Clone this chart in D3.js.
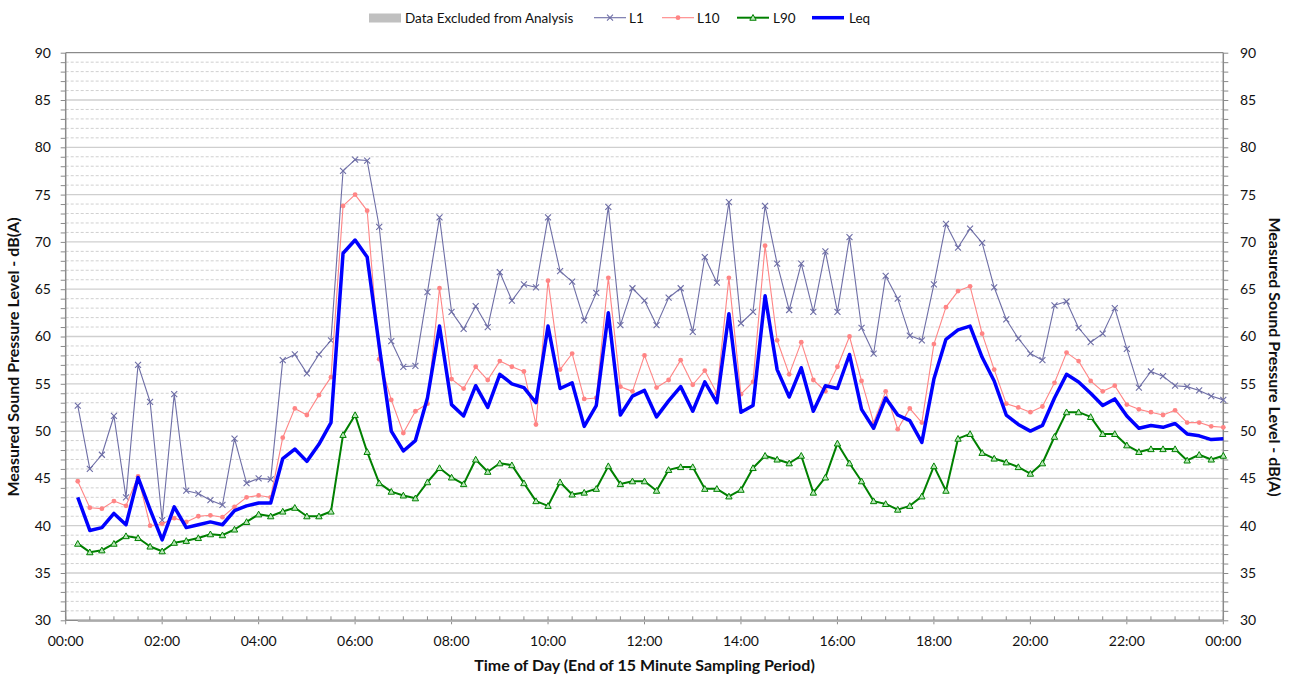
<!DOCTYPE html>
<html>
<head>
<meta charset="utf-8">
<script src="https://cdn.jsdelivr.net/npm/d3@7.9.0/dist/d3.min.js"></script>
<style>
  html, body { margin: 0; padding: 0; background: #fff; }
  svg { display: block; font-family: Lato, 'Open Sans', sans-serif; }
</style>
</head>
<body>
<svg id="chart" width="1293" height="678"></svg>
<script>
// End of each 15 minute sampling period, in minutes after midnight (00:15 ... 24:00)
const sampleMinutes = d3.range(1, 97).map((k) => k * 15);

const xTickLabels = ['00:00', '02:00', '04:00', '06:00', '08:00', '10:00', '12:00',
  '14:00', '16:00', '18:00', '20:00', '22:00', '00:00'];
const yTicks = [30, 35, 40, 45, 50, 55, 60, 65, 70, 75, 80, 85, 90];

const l1 = [
  52.7, 46.0, 47.5, 51.6, 43.0, 57.0, 53.1, 40.6, 53.9, 43.7, 43.4, 42.7, 42.2, 49.2, 44.5,
  45.0, 44.9, 57.5, 58.1, 56.1, 58.1, 59.6, 77.5, 78.7, 78.6, 71.6, 59.5, 56.8, 56.9, 64.7, 72.6,
  62.6, 60.8, 63.2, 61.0, 66.8, 63.8, 65.5, 65.2, 72.6, 66.9, 65.8, 61.7, 64.6, 73.7, 61.2, 65.1,
  63.8, 61.2, 64.1, 65.1, 60.5, 68.4, 65.7, 74.2, 61.4, 62.6, 73.8, 67.7, 62.8, 67.7, 62.6, 69.0, 62.6,
  70.5, 60.9, 58.2, 66.4, 64.0, 60.1, 59.6, 65.5, 71.9, 69.4, 71.4, 69.9, 65.2, 61.8, 59.8, 58.2,
  57.5, 63.3, 63.7, 60.9, 59.4, 60.3, 63.0, 58.7, 54.6, 56.3, 55.8, 54.8, 54.7, 54.3, 53.7, 53.3,
];
const l10 = [
  44.7, 41.9, 41.8, 42.6, 42.1, 45.2, 40.0, 40.2, 40.8, 40.4, 41.0, 41.1, 40.9, 42.0, 43.0,
  43.2, 43.0, 49.3, 52.4, 51.7, 53.8, 55.7, 73.8, 75.0, 73.3, 57.6, 53.3, 49.8, 52.1, 52.9, 65.1,
  55.5, 54.5, 56.8, 55.4, 57.4, 56.8, 56.3, 50.7, 65.9, 56.5, 58.2, 53.4, 53.5, 66.2, 54.7, 54.2,
  58.0, 54.6, 55.4, 57.5, 54.9, 56.4, 54.0, 66.2, 53.9, 55.2, 69.6, 59.6, 56.0, 59.4, 55.4, 54.2, 56.8,
  60.0, 55.3, 50.9, 54.2, 50.2, 52.4, 50.9, 59.2, 63.1, 64.8, 65.3, 60.3, 56.5, 52.9, 52.5, 52.0,
  52.6, 55.1, 58.3, 57.4, 55.3, 54.2, 54.8, 52.8, 52.3, 52.0, 51.7, 52.2, 50.9, 50.9, 50.5, 50.4,
];
const l90 = [
  38.1, 37.2, 37.4, 38.1, 38.9, 38.7, 37.8, 37.3, 38.2, 38.4, 38.7, 39.1, 39.0, 39.6, 40.4,
  41.2, 41.0, 41.5, 41.9, 41.0, 41.0, 41.5, 49.6, 51.7, 47.8, 44.5, 43.6, 43.2, 42.9, 44.6, 46.1,
  45.1, 44.4, 47.0, 45.7, 46.6, 46.4, 44.5, 42.6, 42.1, 44.6, 43.3, 43.5, 43.9, 46.3, 44.4, 44.7,
  44.7, 43.7, 45.9, 46.2, 46.2, 43.9, 43.9, 43.1, 43.8, 46.1, 47.4, 47.0, 46.6, 47.4, 43.5, 45.1, 48.7,
  46.6, 44.7, 42.6, 42.3, 41.7, 42.1, 43.1, 46.3, 43.7, 49.2, 49.7, 47.7, 47.1, 46.7, 46.2, 45.5,
  46.6, 49.4, 52.0, 52.0, 51.5, 49.7, 49.7, 48.5, 47.8, 48.1, 48.1, 48.1, 46.9, 47.5, 47.0, 47.4,
];
const leq = [
  43.0, 39.5, 39.8, 41.3, 40.1, 45.1, 41.7, 38.5, 42.0, 39.8, 40.1, 40.4, 40.1, 41.6, 42.1,
  42.4, 42.4, 47.1, 48.1, 46.8, 48.6, 50.9, 68.8, 70.2, 68.4, 59.0, 50.0, 47.9, 49.0, 53.5, 61.1,
  52.8, 51.6, 54.8, 52.5, 56.0, 55.0, 54.6, 53.0, 61.1, 54.5, 55.1, 50.5, 52.7, 62.5, 51.7, 53.7,
  54.3, 51.5, 53.2, 54.7, 52.1, 55.2, 53.0, 62.4, 52.0, 52.7, 64.3, 56.5, 53.6, 56.7, 52.1, 54.8, 54.5,
  58.1, 52.3, 50.3, 53.5, 51.7, 51.1, 48.8, 55.5, 59.7, 60.7, 61.1, 57.8, 55.3, 51.7, 50.7, 50.0,
  50.6, 53.5, 56.0, 55.2, 54.0, 52.7, 53.4, 51.6, 50.3, 50.6, 50.4, 50.8, 49.7, 49.5, 49.1, 49.2,
];

const series = [
  { name: 'L1', values: l1, color: '#6e6ea6', width: 1.1, marker: 'cross' },
  { name: 'L10', values: l10, color: '#ff8585', width: 1.1, marker: 'dot' },
  { name: 'L90', values: l90, color: '#008000', width: 2, marker: 'triangle' },
  { name: 'Leq', values: leq, color: '#0000ff', width: 3.5, marker: null },
];

const svg = d3.select('#chart');
const plot = { left: 65.7, right: 1223.3, top: 52.7, bottom: 620.3 };

const x = d3.scaleLinear().domain([0, 1440]).range([plot.left, plot.right]);
const y = d3.scaleLinear().domain([30, 90]).range([plot.bottom, plot.top]);

// gridlines
const minor = d3.range(31, 90).filter((v) => v % 5 !== 0);
svg.append('g')
  .selectAll('line')
  .data(minor)
  .join('line')
  .attr('x1', plot.left).attr('x2', plot.right)
  .attr('y1', (d) => y(d)).attr('y2', (d) => y(d))
  .attr('stroke', '#c4c4c4')
  .attr('stroke-width', 0.8)
  .attr('stroke-dasharray', '3,2');

svg.append('g')
  .selectAll('line')
  .data(yTicks.filter((v) => v > 30 && v < 90))
  .join('line')
  .attr('x1', plot.left).attr('x2', plot.right)
  .attr('y1', (d) => y(d)).attr('y2', (d) => y(d))
  .attr('stroke', '#cfcfcf')
  .attr('stroke-width', 1.3);

svg.append('line')
  .attr('x1', plot.left).attr('x2', plot.right)
  .attr('y1', y(90)).attr('y2', y(90))
  .attr('stroke', '#6f6f6f')
  .attr('stroke-width', 1);

// axes
const leftAxis = d3.axisLeft(y).tickValues(d3.range(30, 91)).tickSize(5).tickFormat('');
const rightAxis = d3.axisRight(y).tickValues(d3.range(30, 91)).tickSize(5).tickFormat('');

function styleAxis(g) {
  g.select('.domain').remove();
  g.selectAll('.tick line').attr('stroke', '#8a8a8a');
}

svg.append('g').attr('transform', `translate(${plot.left},0)`).call(leftAxis).call(styleAxis);
svg.append('g').attr('transform', `translate(${plot.right},0)`).call(rightAxis).call(styleAxis);

// y tick labels
svg.append('g')
  .selectAll('text')
  .data(yTicks)
  .join('text')
  .attr('x', 51)
  .attr('y', (d) => y(d))
  .attr('dy', '0.35em')
  .attr('text-anchor', 'end')
  .attr('font-size', 14)
  .attr('fill', '#111')
  .text((d) => d);

svg.append('g')
  .selectAll('text')
  .data(yTicks)
  .join('text')
  .attr('x', 1240)
  .attr('y', (d) => y(d))
  .attr('dy', '0.35em')
  .attr('text-anchor', 'start')
  .attr('font-size', 14)
  .attr('fill', '#111')
  .text((d) => d);

// x axis: minor ticks every 30 minutes, major every 2 hours
const xMinor = d3.range(0, 1441, 30).filter((m) => m % 120 !== 0);
const xMajor = d3.range(0, 1441, 120);

svg.append('g')
  .selectAll('line')
  .data(xMinor)
  .join('line')
  .attr('x1', (d) => x(d)).attr('x2', (d) => x(d))
  .attr('y1', plot.bottom - 4).attr('y2', plot.bottom)
  .attr('stroke', '#8a8a8a');

svg.append('g')
  .selectAll('line')
  .data(xMajor)
  .join('line')
  .attr('x1', (d) => x(d)).attr('x2', (d) => x(d))
  .attr('y1', plot.bottom - 4).attr('y2', plot.bottom + 4)
  .attr('stroke', '#8a8a8a');

svg.append('line')
  .attr('x1', plot.left).attr('x2', plot.left)
  .attr('y1', plot.top).attr('y2', plot.bottom)
  .attr('stroke', '#8a8a8a').attr('stroke-width', 1.5);
svg.append('line')
  .attr('x1', plot.right).attr('x2', plot.right)
  .attr('y1', plot.top).attr('y2', plot.bottom)
  .attr('stroke', '#8a8a8a').attr('stroke-width', 1.5);
svg.append('line')
  .attr('x1', plot.left).attr('x2', plot.right)
  .attr('y1', plot.bottom).attr('y2', plot.bottom)
  .attr('stroke', '#8a8a8a').attr('stroke-width', 1.5);
// excluded-data band sits on the baseline
svg.append('line')
  .attr('x1', x(sampleMinutes[0])).attr('x2', plot.right)
  .attr('y1', plot.bottom + 0.8).attr('y2', plot.bottom + 0.8)
  .attr('stroke', '#b5b5b5').attr('stroke-width', 1.6);

svg.append('g')
  .selectAll('text')
  .data(xTickLabels)
  .join('text')
  .attr('x', (d, i) => x(xMajor[i]))
  .attr('y', 646)
  .attr('text-anchor', 'middle')
  .attr('font-size', 14)
  .attr('fill', '#111')
  .text((d) => d);

// series
const line = d3.line()
  .x((d, i) => x(sampleMinutes[i]))
  .y((d) => y(d));

function drawMarker(g, type, color, cx, cy) {
  if (type === 'cross') {
    const s = 3;
    g.append('path')
      .attr('d', `M${cx - s},${cy - s}L${cx + s},${cy + s}M${cx - s},${cy + s}L${cx + s},${cy - s}`)
      .attr('stroke', color).attr('stroke-width', 1.1).attr('fill', 'none');
  } else if (type === 'dot') {
    g.append('circle')
      .attr('cx', cx).attr('cy', cy).attr('r', 2.4)
      .attr('fill', color);
  } else if (type === 'triangle') {
    const s = 3.2;
    g.append('path')
      .attr('d', `M${cx},${cy - s}L${cx + s},${cy + s * 0.8}L${cx - s},${cy + s * 0.8}Z`)
      .attr('stroke', color).attr('stroke-width', 1).attr('fill', '#b8e6b8');
  }
}

series.forEach((s) => {
  const g = svg.append('g');
  g.append('path')
    .datum(s.values)
    .attr('d', line)
    .attr('fill', 'none')
    .attr('stroke', s.color)
    .attr('stroke-width', s.width)
    .attr('stroke-linejoin', 'round');
  if (s.marker) {
    s.values.forEach((v, i) => drawMarker(g, s.marker, s.color, x(sampleMinutes[i]), y(v)));
  }
});

// legend
const legend = svg.append('g').attr('font-size', 13.5).attr('fill', '#111');
legend.append('rect')
  .attr('x', 369).attr('y', 13.5).attr('width', 32).attr('height', 9)
  .attr('fill', '#c0c0c0');
legend.append('text').attr('x', 405).attr('y', 22.5).text('Data Excluded from Analysis');

const legendItems = [
  { s: series[0], x0: 594, tx: 629 },
  { s: series[1], x0: 662, tx: 697 },
  { s: series[2], x0: 737, tx: 773 },
  { s: series[3], x0: 812, tx: 849 },
];
legendItems.forEach(({ s, x0, tx }) => {
  legend.append('line')
    .attr('x1', x0).attr('x2', x0 + 32)
    .attr('y1', 17.7).attr('y2', 17.7)
    .attr('stroke', s.color).attr('stroke-width', s.width);
  if (s.marker) drawMarker(legend, s.marker, s.color, x0 + 16, 17.7);
  legend.append('text').attr('x', tx).attr('y', 22.5).text(s.name);
});

// axis titles
const titleMidY = 357;
svg.append('text')
  .attr('transform', `translate(18.5,${titleMidY}) rotate(-90)`)
  .attr('text-anchor', 'middle')
  .attr('font-size', 16).attr('font-weight', 'bold').attr('fill', '#111')
  .text('Measured Sound Pressure Level - dB(A)');
svg.append('text')
  .attr('transform', `translate(1269,${titleMidY}) rotate(90)`)
  .attr('text-anchor', 'middle')
  .attr('font-size', 16).attr('font-weight', 'bold').attr('fill', '#111')
  .text('Measured Sound Pressure Level - dB(A)');
svg.append('text')
  .attr('x', (plot.left + plot.right) / 2)
  .attr('y', 671)
  .attr('text-anchor', 'middle')
  .attr('font-size', 16).attr('font-weight', 'bold').attr('fill', '#111')
  .text('Time of Day (End of 15 Minute Sampling Period)');
</script>
</body>
</html>
